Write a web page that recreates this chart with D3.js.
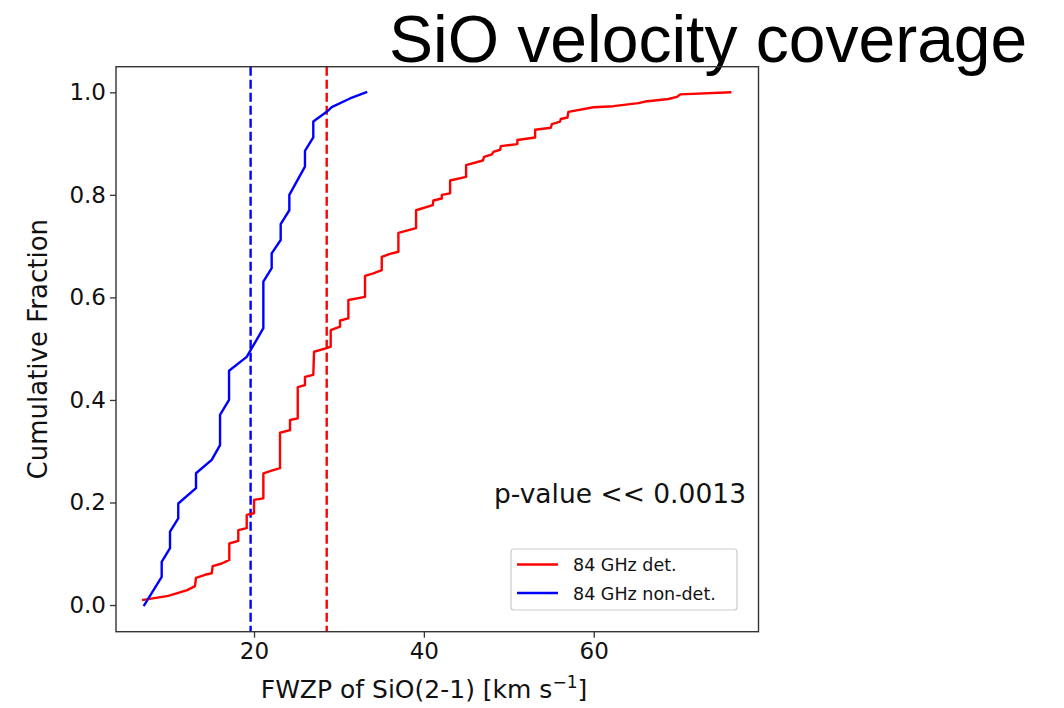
<!DOCTYPE html>
<html>
<head>
<meta charset="utf-8">
<script src="https://cdn.jsdelivr.net/npm/d3@7"></script>
<style>
  html, body { margin: 0; padding: 0; background: #fff; }
  svg { display: block; }
</style>
</head>
<body>
<svg id="chart" width="1064" height="708"></svg>
<script>
// ---- data ----
const detX = [6.96, 9.91, 12.14, 13.05, 13.17, 14.23, 15.02, 15.14, 16.2, 17.09, 17.09, 18.15, 18.15, 19.14, 19.14, 20.0, 20.0, 21.1, 21.1, 22.08, 23.06, 23.06, 24.24, 24.24, 25.15, 25.15, 26.0, 26.0, 26.98, 27.07, 28.56, 29.03, 29.03, 30.13, 30.13, 31.11, 31.11, 33.07, 33.07, 34.05, 35.04, 35.04, 36.02, 37.0, 37.0, 39.08, 39.08, 41.05, 41.12, 42.11, 42.11, 43.09, 43.09, 44.97, 44.97, 46.94, 47.09, 48.0, 48.19, 48.98, 49.06, 51.01, 51.01, 53.1, 53.1, 54.95, 55.07, 56.04, 56.12, 56.9, 57.02, 59.96, 62.32, 65.26, 66.05, 68.8, 69.79, 70.18, 76.07];
const detY = [0.010, 0.018, 0.029, 0.037, 0.053, 0.059, 0.062, 0.076, 0.081, 0.088, 0.120, 0.125, 0.146, 0.150, 0.176, 0.179, 0.205, 0.208, 0.257, 0.262, 0.267, 0.336, 0.341, 0.361, 0.364, 0.425, 0.429, 0.445, 0.449, 0.494, 0.501, 0.504, 0.536, 0.543, 0.555, 0.559, 0.595, 0.601, 0.642, 0.647, 0.653, 0.679, 0.685, 0.689, 0.726, 0.735, 0.770, 0.780, 0.789, 0.793, 0.800, 0.803, 0.828, 0.835, 0.858, 0.867, 0.874, 0.879, 0.884, 0.888, 0.895, 0.899, 0.907, 0.912, 0.927, 0.931, 0.938, 0.943, 0.948, 0.951, 0.962, 0.971, 0.973, 0.979, 0.982, 0.987, 0.991, 0.996, 1.000];

const nonDetX = [7.08, 9.13, 9.13, 10.11, 10.11, 11.08, 11.08, 13.17, 13.17, 15.02, 16.0, 16.0, 17.06, 17.06, 19.14, 21.1, 21.1, 22.08, 22.08, 23.14, 23.14, 24.16, 24.16, 26.0, 26.0, 26.98, 26.98, 28.56, 29.15, 31.3, 33.2];
const nonDetY = [0.000, 0.055, 0.084, 0.111, 0.143, 0.169, 0.198, 0.228, 0.257, 0.283, 0.312, 0.371, 0.400, 0.457, 0.484, 0.540, 0.631, 0.657, 0.686, 0.712, 0.743, 0.770, 0.800, 0.855, 0.886, 0.912, 0.943, 0.962, 0.971, 0.988, 1.000];

const medians = [19.6, 28.56];            // blue (non-det), red (det)
const seriesNames = ["84 GHz det.", "84 GHz non-det."];
const seriesColors = ["#ff0000", "#0000ff"];
const xTicks = [20, 40, 60];
const yTicks = [0.0, 0.2, 0.4, 0.6, 0.8, 1.0];
const titleText = "SiO velocity coverage";
const annotation = "p-value << 0.0013";

// ---- layout ----
const svg = d3.select("#chart");
const L = 116, R = 758.5, T = 66.7, B = 631.7;
const x = d3.scaleLinear().domain([3.75, 79.4]).range([L, R]);
const y = d3.scaleLinear().domain([-0.052, 1.050]).range([B, T]);
const tickFont = "DejaVu Sans, sans-serif";

// title
svg.append("text").attr("x", 389).attr("y", 62)
  .attr("font-family", "Liberation Sans, Arial, sans-serif")
  .attr("font-size", 66).attr("fill", "#000").text(titleText);

// clip
svg.append("clipPath").attr("id", "clip").append("rect")
  .attr("x", L).attr("y", T).attr("width", R - L).attr("height", B - T);

const plot = svg.append("g").attr("clip-path", "url(#clip)");

// dashed median lines
const medianColors = ["#0000ff", "#ff0000"];
medians.forEach((m, i) => {
  plot.append("line")
    .attr("x1", x(m)).attr("x2", x(m)).attr("y1", T).attr("y2", B)
    .attr("stroke", medianColors[i]).attr("stroke-width", 2.4)
    .attr("stroke-dasharray", "9,4");
});

const line = d3.line().x(d => x(d[0])).y(d => y(d[1]));
const detPts = detX.map((v, i) => [v, detY[i]]);
const nonPts = nonDetX.map((v, i) => [v, nonDetY[i]]);

plot.append("path").datum(detPts).attr("d", line)
  .attr("fill", "none").attr("stroke", seriesColors[0]).attr("stroke-width", 2.4)
  .attr("stroke-linejoin", "round").attr("stroke-linecap", "square");
plot.append("path").datum(nonPts).attr("d", line)
  .attr("fill", "none").attr("stroke", seriesColors[1]).attr("stroke-width", 2.4)
  .attr("stroke-linejoin", "round").attr("stroke-linecap", "square");

// axes
const xAxis = d3.axisBottom(x).tickValues(xTicks).tickFormat(d3.format("d")).tickSize(6).tickPadding(5);
const yAxis = d3.axisLeft(y).tickValues(yTicks).tickFormat(d3.format(".1f")).tickSize(6).tickPadding(4);

const gx = svg.append("g").attr("transform", `translate(0,${B})`).call(xAxis);
const gy = svg.append("g").attr("transform", `translate(${L},0)`).call(yAxis);
[gx, gy].forEach(g => {
  g.select(".domain").remove();
  g.selectAll(".tick line").attr("stroke", "#333").attr("stroke-width", 1.3);
  g.selectAll(".tick text").attr("font-family", tickFont).attr("font-size", 23).attr("fill", "#111");
});

// frame
svg.append("rect").attr("x", L).attr("y", T).attr("width", R - L).attr("height", B - T)
  .attr("fill", "none").attr("stroke", "#333").attr("stroke-width", 1.4);

// axis labels
svg.append("text").attr("x", 424).attr("y", 698).attr("text-anchor", "middle")
  .attr("font-family", tickFont).attr("font-size", 25).attr("fill", "#111")
  .html('FWZP of SiO(2-1) [km s<tspan dy="-10" font-size="17">\u22121</tspan><tspan dy="10">]</tspan>');
svg.append("text").attr("transform", `translate(47,${(T + B) / 2}) rotate(-90)`)
  .attr("text-anchor", "middle")
  .attr("font-family", tickFont).attr("font-size", 26).attr("fill", "#111")
  .text("Cumulative Fraction");

// annotation
svg.append("text").attr("x", 746).attr("y", 503).attr("text-anchor", "end")
  .attr("font-family", tickFont).attr("font-size", 26.5).attr("fill", "#111")
  .text(annotation);

// legend
const lg = svg.append("g");
lg.append("rect").attr("x", 511).attr("y", 549).attr("width", 226).attr("height", 61)
  .attr("rx", 3).attr("fill", "#fff").attr("stroke", "#ccc").attr("stroke-width", 1.2);
seriesNames.forEach((name, i) => {
  const yy = 564.5 + i * 28.5;
  lg.append("line").attr("x1", 517).attr("x2", 558).attr("y1", yy).attr("y2", yy)
    .attr("stroke", seriesColors[i]).attr("stroke-width", 2.4);
  lg.append("text").attr("x", 573).attr("y", yy + 6.5)
    .attr("font-family", tickFont).attr("font-size", 17.5).attr("fill", "#111").text(name);
});
</script>
</body>
</html>
